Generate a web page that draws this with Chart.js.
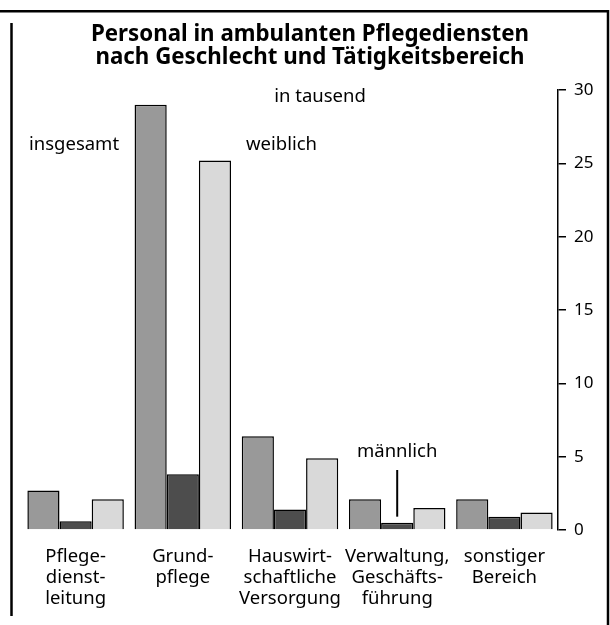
<!DOCTYPE html>
<html><head><meta charset="utf-8">
<script src="https://cdn.jsdelivr.net/npm/chart.js@4/dist/chart.umd.min.js"></script>
<style>html,body{margin:0;padding:0;background:#fff;}#wrap{width:610px;height:625px;position:relative}</style>
</head><body><div id="wrap"><canvas id="c" width="610" height="625"></canvas></div>
<script>
const categories = [["Pflege-","dienst-","leitung"],["Grund-","pflege"],["Hauswirt-","schaftliche","Versorgung"],["Verwaltung,","Geschäfts-","führung"],["sonstiger","Bereich"]];
const insgesamt = [2.7, 29.0, 6.4, 2.1, 2.1];
const maennlich = [0.6, 3.8, 1.4, 0.5, 0.9];
const weiblich = [2.1, 25.2, 4.9, 1.5, 1.2];
const yTicks = [0, 5, 10, 15, 20, 25, 30];
const titleLines = ["Personal in ambulanten Pflegediensten", "nach Geschlecht und Tätigkeitsbereich"];
const unitLabel = "in tausend";
const seriesNames = ["insgesamt", "männlich", "weiblich"];
const seriesColors = ["#999999", "#4d4d4d", "#d9d9d9"];

const FONT = "'Noto Sans', 'Open Sans', sans-serif";

const decor = {
  id: 'decor',
  afterDraw(chart) {
    const ctx = chart.ctx;
    ctx.save();
    ctx.strokeStyle = '#000';
    // frame
    ctx.lineWidth = 2.5;
    ctx.beginPath(); ctx.moveTo(0, 11.3); ctx.lineTo(608, 11.3); ctx.lineTo(608, 625); ctx.stroke();
    ctx.beginPath(); ctx.moveTo(11.5, 23); ctx.lineTo(11.5, 616); ctx.stroke();
    // title
    ctx.fillStyle = '#000';
    ctx.textAlign = 'center'; ctx.textBaseline = 'middle';
    ctx.font = "bold 22.3px " + FONT;
    ctx.fillText(titleLines[0], 310, 35);
    ctx.fillText(titleLines[1], 310, 58);
    ctx.font = "18.5px " + FONT;
    ctx.fillText(unitLabel, 320, 97);
    // series labels
    ctx.textAlign = 'left';
    ctx.fillText(seriesNames[0], 29, 145);
    ctx.fillText(seriesNames[2], 246, 145);
    const mBar = chart.getDatasetMeta(1).data[3];
    ctx.textAlign = 'center';
    ctx.fillText(seriesNames[1], mBar.x, 452);
    ctx.lineWidth = 2;
    ctx.beginPath(); ctx.moveTo(mBar.x, 470); ctx.lineTo(mBar.x, mBar.y - 6); ctx.stroke();
    ctx.restore();
  }
};

new Chart(document.getElementById('c'), {
  type: 'bar',
  data: {
    labels: categories,
    datasets: [
      { label: seriesNames[0], data: insgesamt, backgroundColor: seriesColors[0] },
      { label: seriesNames[1], data: maennlich, backgroundColor: seriesColors[1] },
      { label: seriesNames[2], data: weiblich, backgroundColor: seriesColors[2] }
    ]
  },
  options: {
    responsive: false,
    animation: false,
    devicePixelRatio: 1,
    layout: { padding: { top: 90, left: 22, right: 0, bottom: 0 } },
    datasets: { bar: { borderColor: '#000', borderWidth: 1.5, categoryPercentage: 0.9, barPercentage: 1.0 } },
    plugins: { legend: { display: false }, title: { display: false }, tooltip: { enabled: false } },
    scales: {
      x: {
        grid: { display: false }, border: { display: false },
        ticks: { color: '#000', font: { family: FONT, size: 18.5, lineHeight: '21px' }, maxRotation: 0, autoSkip: false, padding: 8.5 },
        afterFit(s) { s.height = 95; }
      },
      y: {
        position: 'right', min: 0, max: 30,
        afterBuildTicks(s) { s.ticks = yTicks.map(v => ({ value: v })); },
        ticks: { color: '#000', font: { family: FONT, size: 17 }, padding: 8 },
        grid: { drawOnChartArea: false, tickLength: 8, color: '#000', lineWidth: 1.5 },
        border: { display: true, color: '#000', width: 1.5 },
        afterFit(s) { s.width = 52; }
      }
    }
  },
  plugins: [decor]
});
</script></body></html>
